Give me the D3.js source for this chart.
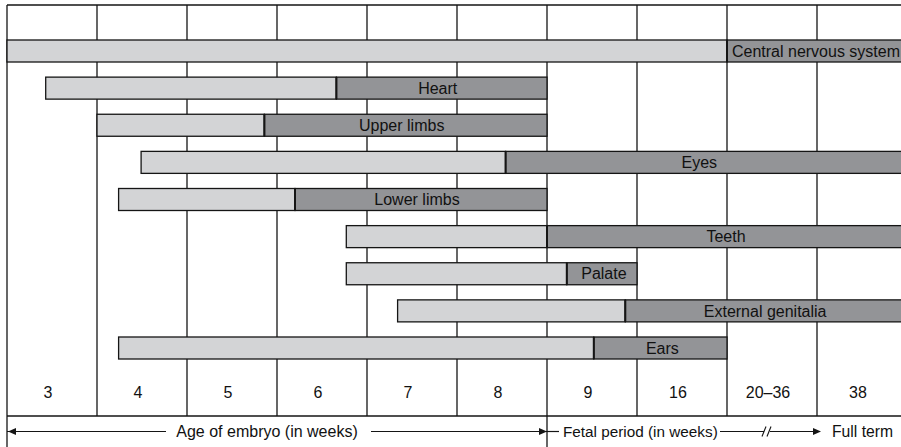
<html>
<head>
<meta charset="utf-8">
<style>
    body { margin: 0; background: #fff; }
    text { font-family: "Liberation Sans", Arial, sans-serif; fill: #111; }
</style>
<script src="https://cdn.jsdelivr.net/npm/d3@7/dist/d3.min.js"></script>
</head>
<body>
<div id="chart"></div>
<script>

// organs (rows, top to bottom)
var organs = ["Central nervous system", "Heart", "Upper limbs", "Eyes", "Lower limbs",
              "Teeth", "Palate", "External genitalia", "Ears"];
// positions in column units (column i = week label i)
var startPeriod  = [0.0, 0.43, 1.0, 1.49, 1.24, 3.77, 3.77, 4.34, 1.24];
var majorStart   = [8.0, 3.66, 2.86, 5.54, 3.2, 6.0, 6.22, 6.87, 6.52];
var endPeriod    = [10.3, 6.0, 6.0, 10.3, 6.0, 10.3, 7.0, 10.3, 8.0];

var weekLabels = ["3", "4", "5", "6", "7", "8", "9", "16", "20\u201336", "38"];

var width = 901, height = 447;
var lightFill = "#d3d4d6", darkFill = "#939497", ink = "#151515";

var svg = d3.select("#chart").append("svg")
    .attr("width", width)
    .attr("height", height);

var x = d3.scaleLinear().domain([0, 10]).range([7, 907]);
var y = d3.scalePoint().domain(organs).range([40, 337]);
var barH = 22;
var gridTop = 5, gridBottom = 416;

// column lines (behind bars)
svg.append("g").selectAll("line")
    .data(d3.range(0, 10))
    .enter().append("line")
    .attr("x1", function (d) { return x(d); })
    .attr("x2", function (d) { return x(d); })
    .attr("y1", gridTop)
    .attr("y2", function (d) { return (d === 0 || d === 6) ? height : gridBottom; })
    .attr("stroke", ink)
    .attr("stroke-width", 1.3);

svg.append("line")
    .attr("x1", x(0)).attr("x2", width)
    .attr("y1", gridTop).attr("y2", gridTop)
    .attr("stroke", ink).attr("stroke-width", 1.3);

svg.append("line")
    .attr("x1", x(0)).attr("x2", width)
    .attr("y1", gridBottom).attr("y2", gridBottom)
    .attr("stroke", ink).attr("stroke-width", 1.3);

var rows = organs.map(function (o, i) {
    return {name: o, s: startPeriod[i], m: majorStart[i], e: endPeriod[i]};
});

var bar = svg.append("g").selectAll("g")
    .data(rows)
    .enter().append("g");

bar.append("rect")
    .attr("x", function (d) { return x(d.s); })
    .attr("y", function (d) { return y(d.name); })
    .attr("width", function (d) { return x(d.m) - x(d.s); })
    .attr("height", barH)
    .attr("fill", lightFill)
    .attr("stroke", ink)
    .attr("stroke-width", 1.3);

bar.append("rect")
    .attr("x", function (d) { return x(d.m); })
    .attr("y", function (d) { return y(d.name); })
    .attr("width", function (d) { return x(d.e) - x(d.m); })
    .attr("height", barH)
    .attr("fill", darkFill)
    .attr("stroke", ink)
    .attr("stroke-width", 1.3);

bar.append("line")
    .attr("x1", function (d) { return x(d.m); })
    .attr("x2", function (d) { return x(d.m); })
    .attr("y1", function (d) { return y(d.name); })
    .attr("y2", function (d) { return y(d.name) + barH; })
    .attr("stroke", ink)
    .attr("stroke-width", 2);

bar.append("text")
    .attr("x", function (d) { return (x(d.m) + Math.min(x(d.e), width)) / 2 + (d.m >= 6 ? 2 : -4); })
    .attr("y", function (d) { return y(d.name) + barH / 2 + 5.7; })
    .attr("text-anchor", "middle")
    .attr("font-size", "16px")
    .text(function (d) { return d.name; });

// week numbers
svg.append("g").selectAll("text")
    .data(weekLabels)
    .enter().append("text")
    .attr("x", function (d, i) { return x(i + 0.5) - 4; })
    .attr("y", 397.5)
    .attr("text-anchor", "middle")
    .attr("font-size", "16px")
    .text(function (d) { return d; });

// period arrows
var ay = 431.5;
function seg(x1, x2) {
    svg.append("line").attr("x1", x1).attr("x2", x2).attr("y1", ay).attr("y2", ay)
        .attr("stroke", ink).attr("stroke-width", 1.2);
}
function head(tip, dir) {
    svg.append("path")
        .attr("d", "M" + tip + "," + ay + "L" + (tip - dir * 8) + "," + (ay - 3.5) +
            "L" + (tip - dir * 8) + "," + (ay + 3.5) + "Z")
        .attr("fill", ink);
}

seg(x(0), 166); head(x(0) + 1, -1);
seg(371, x(6)); head(x(6), 1);
seg(x(6), 559);
seg(720, 820); head(821, 1);
// break mark
svg.append("rect").attr("x", 764).attr("y", ay - 2).attr("width", 6).attr("height", 4).attr("fill", "#fff");
[764, 769].forEach(function (bx) {
    svg.append("line")
        .attr("x1", bx - 2).attr("x2", bx + 2)
        .attr("y1", ay + 5).attr("y2", ay - 5)
        .attr("stroke", ink).attr("stroke-width", 1.1);
});

svg.append("text").attr("x", 267).attr("y", 437).attr("text-anchor", "middle")
    .attr("font-size", "16px").text("Age of embryo (in weeks)");
svg.append("text").attr("x", 563).attr("y", 437)
    .attr("font-size", "15.3px").text("Fetal period (in weeks)");
svg.append("text").attr("x", 832).attr("y", 437)
    .attr("font-size", "15.7px").text("Full term");

</script>
</body>
</html>
